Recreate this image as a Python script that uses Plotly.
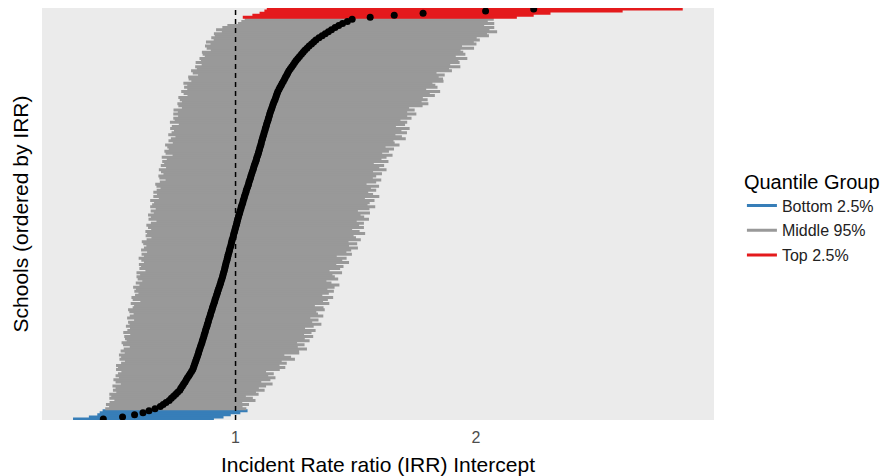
import plotly.graph_objects as go

# Schools ordered by estimated incident rate ratio (IRR), lowest first
irr_est = [
    0.45, 0.53, 0.58, 0.615, 0.64, 0.665, 0.687, 0.699, 0.711, 0.724,
    0.733, 0.742, 0.751, 0.759, 0.768, 0.773, 0.779, 0.784, 0.790, 0.795,
    0.800, 0.806, 0.811, 0.817, 0.822, 0.825, 0.828, 0.831, 0.834, 0.837,
    0.840, 0.843, 0.846, 0.848, 0.851, 0.854, 0.857, 0.860, 0.862, 0.865,
    0.868, 0.870, 0.873, 0.875, 0.878, 0.881, 0.883, 0.886, 0.888, 0.891,
    0.894, 0.896, 0.899, 0.902, 0.904, 0.907, 0.910, 0.913, 0.915, 0.918,
    0.921, 0.924, 0.926, 0.929, 0.932, 0.935, 0.938, 0.940, 0.943, 0.946,
    0.948, 0.950, 0.953, 0.955, 0.957, 0.959, 0.961, 0.964, 0.966, 0.968,
    0.970, 0.973, 0.975, 0.977, 0.980, 0.982, 0.984, 0.986, 0.989, 0.991,
    0.993, 0.996, 0.998, 1.000, 1.003, 1.005, 1.007, 1.009, 1.012, 1.014,
    1.017, 1.019, 1.022, 1.024, 1.027, 1.030, 1.032, 1.035, 1.037, 1.040,
    1.043, 1.045, 1.048, 1.051, 1.054, 1.056, 1.059, 1.062, 1.064, 1.067,
    1.070, 1.073, 1.075, 1.078, 1.081, 1.084, 1.087, 1.089, 1.092, 1.095,
    1.097, 1.100, 1.102, 1.105, 1.107, 1.109, 1.112, 1.114, 1.117, 1.119,
    1.122, 1.124, 1.127, 1.129, 1.132, 1.135, 1.137, 1.140, 1.142, 1.145,
    1.148, 1.151, 1.154, 1.157, 1.160, 1.164, 1.167, 1.170, 1.173, 1.176,
    1.181, 1.185, 1.190, 1.194, 1.199, 1.204, 1.208, 1.213, 1.217, 1.222,
    1.228, 1.234, 1.240, 1.246, 1.252, 1.259, 1.266, 1.274, 1.281, 1.288,
    1.297, 1.306, 1.316, 1.325, 1.334, 1.347, 1.360, 1.373, 1.386, 1.399,
    1.414, 1.429, 1.445, 1.465, 1.485, 1.56, 1.66, 1.78, 2.04, 2.24,
]

# Lower bound of each school's interval
irr_low = [
    0.324, 0.39, 0.425, 0.435, 0.447, 0.458, 0.474, 0.461, 0.476, 0.496,
    0.475, 0.483, 0.475, 0.504, 0.490, 0.501, 0.488, 0.523, 0.501, 0.492,
    0.515, 0.501, 0.511, 0.525, 0.503, 0.511, 0.503, 0.524, 0.540, 0.517,
    0.524, 0.515, 0.539, 0.522, 0.535, 0.560, 0.532, 0.526, 0.547, 0.540,
    0.537, 0.562, 0.533, 0.550, 0.561, 0.544, 0.559, 0.553, 0.578, 0.549,
    0.560, 0.576, 0.558, 0.553, 0.572, 0.578, 0.564, 0.604, 0.572, 0.567,
    0.582, 0.596, 0.579, 0.586, 0.574, 0.600, 0.585, 0.612, 0.593, 0.588,
    0.603, 0.588, 0.625, 0.600, 0.607, 0.598, 0.619, 0.608, 0.597, 0.619,
    0.609, 0.632, 0.607, 0.619, 0.629, 0.616, 0.610, 0.630, 0.650, 0.626,
    0.632, 0.625, 0.649, 0.636, 0.629, 0.648, 0.671, 0.638, 0.648, 0.636,
    0.660, 0.647, 0.668, 0.645, 0.653, 0.661, 0.645, 0.681, 0.658, 0.673,
    0.658, 0.672, 0.688, 0.671, 0.666, 0.685, 0.709, 0.683, 0.679, 0.700,
    0.690, 0.681, 0.711, 0.689, 0.703, 0.695, 0.714, 0.693, 0.738, 0.709,
    0.704, 0.722, 0.716, 0.707, 0.739, 0.721, 0.731, 0.750, 0.720, 0.734,
    0.744, 0.728, 0.735, 0.764, 0.727, 0.747, 0.741, 0.761, 0.741, 0.760,
    0.742, 0.777, 0.762, 0.758, 0.777, 0.768, 0.762, 0.800, 0.784, 0.774,
    0.799, 0.786, 0.799, 0.783, 0.816, 0.805, 0.803, 0.844, 0.822, 0.815,
    0.839, 0.832, 0.859, 0.834, 0.856, 0.850, 0.872, 0.863, 0.860, 0.897,
    0.880, 0.873, 0.896, 0.877, 0.909, 0.899, 0.914, 0.910, 0.943, 0.919,
    0.945, 0.966, 1.010, 1.024, 1.038, 1.03, 1.07, 1.10, 1.12, 1.13,
]

# Upper bound of each school's interval
irr_high = [
    0.91, 0.95, 0.98, 1.02, 1.05, 1.045, 1.029, 1.056, 1.028, 1.083,
    1.072, 1.043, 1.096, 1.085, 1.121, 1.097, 1.127, 1.154, 1.107, 1.145,
    1.166, 1.136, 1.159, 1.127, 1.184, 1.207, 1.183, 1.213, 1.192, 1.247,
    1.231, 1.203, 1.265, 1.264, 1.297, 1.259, 1.287, 1.256, 1.308, 1.288,
    1.323, 1.285, 1.316, 1.333, 1.289, 1.325, 1.357, 1.319, 1.345, 1.311,
    1.365, 1.343, 1.336, 1.371, 1.366, 1.330, 1.390, 1.364, 1.384, 1.406,
    1.361, 1.388, 1.409, 1.382, 1.412, 1.432, 1.399, 1.378, 1.427, 1.413,
    1.403, 1.443, 1.391, 1.435, 1.449, 1.419, 1.472, 1.444, 1.462, 1.421,
    1.484, 1.461, 1.481, 1.509, 1.472, 1.506, 1.470, 1.521, 1.501, 1.491,
    1.539, 1.516, 1.485, 1.534, 1.514, 1.534, 1.504, 1.555, 1.535, 1.520,
    1.559, 1.509, 1.557, 1.581, 1.549, 1.558, 1.578, 1.538, 1.598, 1.572,
    1.552, 1.585, 1.563, 1.597, 1.545, 1.585, 1.606, 1.571, 1.585, 1.609,
    1.572, 1.628, 1.598, 1.618, 1.575, 1.636, 1.607, 1.628, 1.653, 1.610,
    1.638, 1.659, 1.624, 1.682, 1.662, 1.657, 1.708, 1.692, 1.665, 1.713,
    1.690, 1.724, 1.667, 1.705, 1.714, 1.686, 1.732, 1.714, 1.752, 1.714,
    1.745, 1.722, 1.778, 1.802, 1.774, 1.799, 1.779, 1.829, 1.808, 1.851,
    1.793, 1.840, 1.831, 1.819, 1.865, 1.863, 1.845, 1.870, 1.836, 1.900,
    1.888, 1.935, 1.893, 1.932, 1.927, 1.964, 1.916, 1.956, 1.947, 1.936,
    1.992, 1.942, 2.002, 1.991, 2.016, 2.003, 2.054, 2.046, 2.088, 2.056,
    2.076, 2.034, 2.076, 2.049, 2.074, 2.17, 2.24, 2.31, 2.61, 2.86,
]

n_schools = len(irr_est)
school_rank = list(range(1, n_schools + 1))

# Number of schools in the bottom and top quantile groups
n_bottom = 5
n_top = 5

group_names = ["Bottom 2.5%", "Middle 95%", "Top 2.5%"]
group_colors = ["#377eb8", "#999999", "#e41a1c"]
group_slices = [
    slice(0, n_bottom),
    slice(n_bottom, n_schools - n_top),
    slice(n_schools - n_top, n_schools),
]

x_ticks = [1, 2]
x_ticklabels = ["1", "2"]

fig = go.Figure()

for name, color, sl in zip(group_names, group_colors, group_slices):
    xs, ys = [], []
    for lo, hi, r in zip(irr_low[sl], irr_high[sl], school_rank[sl]):
        xs += [lo, hi, None]
        ys += [r, r, None]
    fig.add_trace(go.Scatter(
        x=xs, y=ys, mode="lines", name=name,
        legendgroup=name,
        line=dict(color=color, width=3),
        hoverinfo="skip",
    ))

fig.add_trace(go.Scatter(
    x=irr_est, y=school_rank, mode="markers",
    marker=dict(color="black", size=7, line=dict(width=0)),
    showlegend=False,
))

fig.add_shape(
    type="line", xref="x", yref="paper",
    x0=1, x1=1, y0=0, y1=1,
    line=dict(color="black", width=1.5, dash="5px,4px"),
    layer="above",
)

fig.update_layout(
    width=889, height=476,
    margin=dict(l=42, r=174, t=8, b=56),
    paper_bgcolor="white",
    plot_bgcolor="#ebebeb",
    font=dict(family="Liberation Sans, Arial, sans-serif", color="black"),
    showlegend=True,
    legend=dict(
        title=dict(text="Quantile Group", font=dict(size=20, color="black")),
        font=dict(size=16, color="#222222"),
        x=1.04, xanchor="left",
        y=0.625, yanchor="top",
        tracegroupgap=1,
        bgcolor="rgba(0,0,0,0)",
    ),
    xaxis=dict(
        range=[0.195, 2.99],
        tickvals=x_ticks, ticktext=x_ticklabels,
        showgrid=False, zeroline=False, showline=False,
        ticks="", tickfont=dict(size=16, color="#4d4d4d"),
        ticklabelstandoff=6,
        automargin=False,
        title=dict(text="Incident Rate ratio (IRR) Intercept",
                   font=dict(size=21, color="black"), standoff=12),
    ),
    yaxis=dict(
        range=[0.5, n_schools + 0.5],
        showticklabels=False, showgrid=False, zeroline=False,
        showline=False, ticks="",
        automargin=False,
        title=dict(text="Schools (ordered by IRR)",
                   font=dict(size=21, color="black"), standoff=6),
    ),
)

fig.write_html("out.html")
